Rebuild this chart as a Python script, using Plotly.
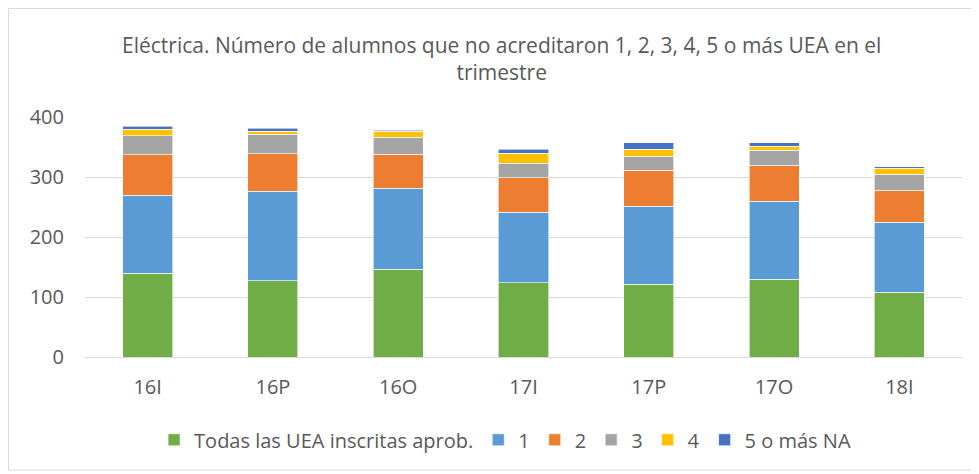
import plotly.graph_objects as go

categories = ["16I", "16P", "16O", "17I", "17P", "17O", "18I"]
todas = [140, 127, 146, 124, 121, 130, 108]
uno = [130, 149, 135, 117, 130, 130, 117]
dos = [67, 63, 57, 58, 60, 60, 53]
tres = [32, 32, 28, 24, 24, 25, 27]
cuatro = [11, 5, 10, 17, 11, 6, 10]
cinco = [5, 5, 2, 6, 11, 6, 2]

series = [
    ("Todas las UEA inscritas aprob.", todas, "#70AD47"),
    ("1", uno, "#5B9BD5"),
    ("2", dos, "#ED7D31"),
    ("3", tres, "#A5A5A5"),
    ("4", cuatro, "#FFC000"),
    ("5 o más NA", cinco, "#4472C4"),
]

fig = go.Figure()
for name, vals, col in series:
    fig.add_trace(go.Bar(
        x=categories, y=vals, name=name,
        marker=dict(color=col, line=dict(color="white", width=0.6)),
    ))

font = "Open Sans"
fig.update_layout(
    barmode="stack",
    bargap=0.6,
    width=971, height=466,
    margin=dict(l=77, r=17, t=109, b=117, autoexpand=False),
    paper_bgcolor="white", plot_bgcolor="white",
    font=dict(family=font, color="#595959"),
    showlegend=True,
    legend=dict(orientation="h", x=0.479, xanchor="center", y=-0.345, yanchor="middle",
                font=dict(size=20, color="#595959"), traceorder="normal",
                itemwidth=30),
    xaxis=dict(showgrid=False, showline=True, linecolor="#D9D9D9", linewidth=1,
               tickfont=dict(size=20, color="#595959"), ticks="", ticklabelstandoff=12),
    yaxis=dict(range=[0, 400], tickvals=[0, 100, 200, 300, 400], showgrid=True,
               gridcolor="#D9D9D9", gridwidth=1, zeroline=False,
               tickfont=dict(size=20, color="#595959"), ticks="", ticklabelstandoff=20),
    annotations=[dict(
        text="Eléctrica. Número de alumnos que no acreditaron 1, 2, 3, 4, 5 o más UEA en el<br>trimestre",
        xref="paper", yref="paper", x=0.475, y=1.244, xanchor="center", yanchor="middle",
        showarrow=False, font=dict(size=21, color="#595959", family=font), align="center")],
    shapes=[dict(type="rect", xref="paper", yref="paper", x0=-0.0872, x1=1.0148,
                 y0=-0.471, y1=1.452, line=dict(color="#D9D9D9", width=1))],
)

fig.write_html("out.html")
